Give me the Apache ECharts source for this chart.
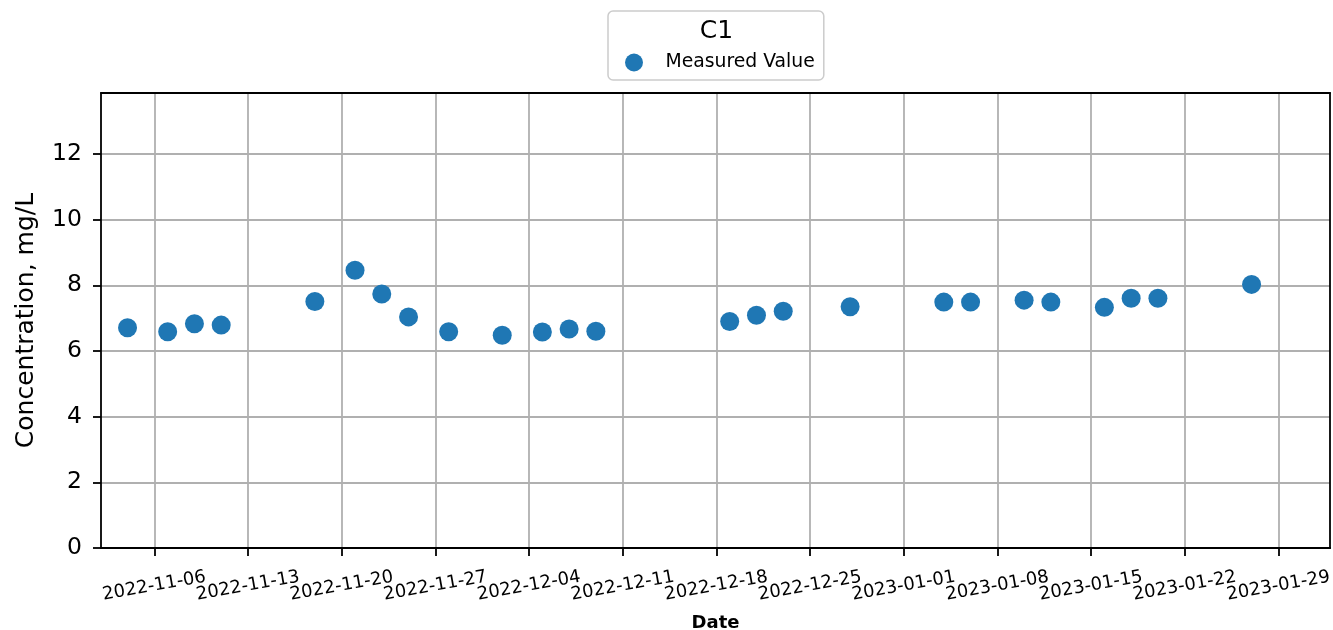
<!DOCTYPE html>
<html><head><meta charset="utf-8">
<script src="https://cdn.jsdelivr.net/npm/echarts@6/dist/echarts.min.js"></script>
<style>html,body{margin:0;padding:0;background:#fff}#c{width:1333px;height:630px}</style>
</head><body><div id="c"></div>
<script>
const dates = ['2022-11-04','2022-11-07','2022-11-09','2022-11-11','2022-11-18','2022-11-21','2022-11-23','2022-11-25','2022-11-28','2022-12-02','2022-12-05','2022-12-07','2022-12-09','2022-12-19','2022-12-21','2022-12-23','2022-12-28','2023-01-04','2023-01-06','2023-01-10','2023-01-12','2023-01-16','2023-01-18','2023-01-20','2023-01-27'];
const values = [6.71,6.59,6.83,6.79,7.51,8.46,7.74,7.04,6.59,6.48,6.58,6.67,6.60,6.90,7.09,7.21,7.35,7.49,7.49,7.55,7.49,7.33,7.61,7.61,8.03];
const xTickLabels = ['2022-11-06','2022-11-13','2022-11-20','2022-11-27','2022-12-04','2022-12-11','2022-12-18','2022-12-25','2023-01-01','2023-01-08','2023-01-15','2023-01-22','2023-01-29'];
const yTicks = [0,2,4,6,8,10,12];
const seriesName = 'Measured Value';
const legendTitle = 'C1';
const xTitle = 'Date';
const yTitle = 'Concentration, mg/L';

function ts(s, h, mi){ const p = s.split('-').map(Number); return Date.UTC(p[0], p[1]-1, p[2], h||0, mi||0); }
const xTickVals = xTickLabels.map(s => ts(s));
const evenVals = xTickVals.filter((v, i) => i % 2 === 0);
const oddVals = xTickVals.filter((v, i) => i % 2 === 1);
const xMin = ts('2022-11-02', 0, 25);
const xMax = ts('2023-02-01', 20, 40);
const yMax = 13.86;
const FONT = 'DejaVu Sans';

function labelFor(v){ const i = xTickVals.indexOf(v); return i >= 0 ? xTickLabels[i] : ''; }
function bottomAxis(vals, withName){
  const ax = {
    type: 'value', min: xMin, max: xMax, position: 'bottom',
    axisLine: {show: true, onZero: false, lineStyle: {color: '#000', width: 1.8}},
    axisTick: {show: true, customValues: vals, length: 8, lineStyle: {color: '#000', width: 1.8}},
    axisLabel: {show: true, customValues: vals, rotate: 10, align: 'center', verticalAlign: 'middle', margin: 38,
      showMinLabel: true, showMaxLabel: true, hideOverlap: false,
      fontSize: 18, color: '#000', fontFamily: FONT, formatter: labelFor},
    splitLine: {show: true, lineStyle: {color: '#b0b0b0', width: 1.8}},
    z: 3
  };
  if (withName) {
    ax.name = xTitle; ax.nameLocation = 'middle'; ax.nameGap = 66;
    ax.nameTextStyle = {fontSize: 18, fontWeight: 'bold', color: '#000', fontFamily: FONT};
  }
  return ax;
}

const chart = echarts.init(document.getElementById('c'), null, {renderer:'canvas'});
chart.setOption({
  animation: false,
  backgroundColor: '#fff',
  textStyle: {fontFamily: FONT},
  grid: {left: 101, right: 3, top: 93, bottom: 82, containLabel: false, outerBoundsMode: 'none'},
  graphic: [{
    type: 'text', x: 716.5, y: 31, z: 100,
    style: {text: legendTitle, fontSize: 25, fontFamily: FONT, fill: '#000', align: 'center', verticalAlign: 'middle'}
  }],
  legend: {
    data: [{name: seriesName, icon: 'circle'}],
    left: 608, top: 11, orient: 'horizontal',
    padding: [42, 9, 8, 17],
    itemWidth: 53, itemHeight: 18,
    selectedMode: false,
    textStyle: {fontSize: 18.8, color: '#000', fontFamily: FONT, lineHeight: 18},
    borderColor: '#cccccc', borderWidth: 1.5, borderRadius: 5, backgroundColor: '#fff'
  },
  xAxis: [
    bottomAxis(evenVals, true),
    {
      type: 'value', min: xMin, max: xMax, position: 'top',
      axisLine: {show: true, onZero: false, lineStyle: {color: '#000', width: 1.8}},
      axisTick: {show: false}, axisLabel: {show: false}, splitLine: {show: false}, z: 5
    },
    bottomAxis(oddVals, false)
  ],
  yAxis: [{
    type: 'value', min: 0, max: yMax, position: 'left',
    name: yTitle, nameLocation: 'middle', nameGap: 62,
    nameTextStyle: {fontSize: 25, color: '#000', fontFamily: FONT},
    axisLine: {show: true, onZero: false, lineStyle: {color: '#000', width: 1.8}},
    axisTick: {show: true, customValues: yTicks, length: 8, lineStyle: {color: '#000', width: 1.8}},
    axisLabel: {show: true, customValues: yTicks, margin: 19, fontSize: 23.5, color: '#000', fontFamily: FONT,
      showMinLabel: true, showMaxLabel: true},
    splitLine: {show: true, lineStyle: {color: '#b0b0b0', width: 1.8}},
    z: 2
  }, {
    type: 'value', min: 0, max: yMax, position: 'right',
    axisLine: {show: true, onZero: false, lineStyle: {color: '#000', width: 1.8}},
    axisTick: {show: false}, axisLabel: {show: false}, splitLine: {show: false}, z: 5
  }],
  series: [{
    name: seriesName, type: 'scatter', xAxisIndex: 0, yAxisIndex: 0,
    symbol: 'circle', symbolSize: 19,
    itemStyle: {color: '#1f77b4', opacity: 1},
    data: dates.map((d, i) => [ts(d), values[i]]),
    z: 4
  }]
});
</script></body></html>
